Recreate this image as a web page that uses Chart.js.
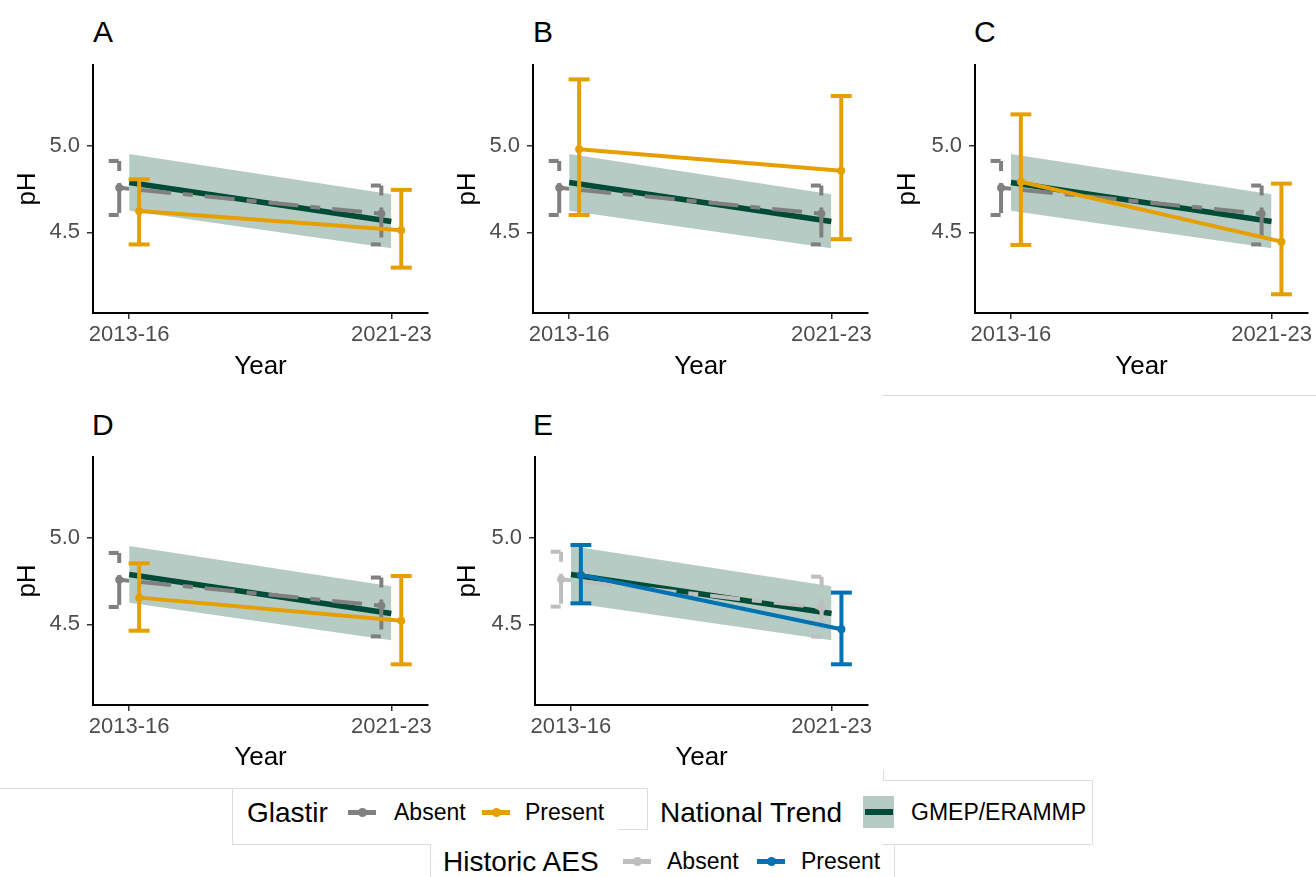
<!DOCTYPE html>
<html>
<head>
<meta charset="utf-8">
<title>Soil pH, 2013-16 to 2021-23</title>
<script src="https://cdn.jsdelivr.net/npm/chart.js@4.4.1/dist/chart.umd.min.js"></script>
<style>
  html, body { margin:0; padding:0; background:#fff; }
  body { width:1316px; height:877px; position:relative; overflow:hidden; font-family:'Liberation Sans', Arial, sans-serif; }
  canvas.panel { position:absolute; }
  .tag { position:absolute; font-size:30px; line-height:1; color:#000; }
  .leg-title { position:absolute; font-size:28px; line-height:1; color:#000; white-space:nowrap; }
  .leg-label { position:absolute; font-size:23px; line-height:1; color:#000; white-space:nowrap; }
  .key-line { position:absolute; height:5px; }
  .key-dot { position:absolute; width:9px; height:9px; border-radius:50%; }
  .rule { position:absolute; background:#dcdcdc; }
</style>
</head>
<body>

<!-- faint legend / panel box edges -->
<div class="rule" style="left:883px;top:395px;width:433px;height:1px"></div>
<div class="rule" style="left:0;top:788px;width:647px;height:1px"></div>
<div class="rule" style="left:232px;top:788px;width:1px;height:56px"></div>
<div class="rule" style="left:232px;top:844px;width:198px;height:1px"></div>
<div class="rule" style="left:430px;top:844px;width:1px;height:33px"></div>
<div class="rule" style="left:647px;top:788px;width:1px;height:41px"></div>
<div class="rule" style="left:619px;top:829px;width:29px;height:1px"></div>
<div class="rule" style="left:883px;top:770px;width:1px;height:10px"></div>
<div class="rule" style="left:883px;top:780px;width:209px;height:1px"></div>
<div class="rule" style="left:1092px;top:780px;width:1px;height:64px"></div>
<div class="rule" style="left:883px;top:844px;width:209px;height:1px"></div>
<div class="rule" style="left:894px;top:844px;width:1px;height:33px"></div>

<!-- legend -->
<div class="leg-title" style="left:247px;top:799px">Glastir</div>
<div class="key-line" style="left:348px;top:810px;width:28px;background:#808080"></div>
<div class="key-dot" style="left:358px;top:808px;background:#808080"></div>
<div class="leg-label" style="left:394px;top:801px">Absent</div>
<div class="key-line" style="left:482px;top:810px;width:28px;background:#E69F00"></div>
<div class="key-dot" style="left:492px;top:808px;background:#E69F00"></div>
<div class="leg-label" style="left:525px;top:801px">Present</div>

<div class="leg-title" style="left:660px;top:799px">National Trend</div>
<div style="position:absolute;left:863px;top:796px;width:31px;height:32px;background:rgba(0,75,53,0.29)"></div>
<div style="position:absolute;left:865px;top:809px;width:28px;height:6px;background:#004b35"></div>
<div class="leg-label" style="left:911px;top:801px">GMEP/ERAMMP</div>

<div class="leg-title" style="left:443px;top:848px">Historic AES</div>
<div class="key-line" style="left:623px;top:859px;width:28px;background:#BEBEBE"></div>
<div class="key-dot" style="left:633px;top:857px;background:#BEBEBE"></div>
<div class="leg-label" style="left:667px;top:850px">Absent</div>
<div class="key-line" style="left:757px;top:859px;width:28px;background:#0072B2"></div>
<div class="key-dot" style="left:767px;top:857px;background:#0072B2"></div>
<div class="leg-label" style="left:801px;top:850px">Present</div>

<script>
// survey periods on the x axis
const periods = ['2013-16', '2021-23'];
const periodX = [1, 2];
const yTicks = [4.5, 5.0];

// national trend (GMEP/ERAMMP) and its confidence band
const trendMean = [4.787, 4.562];
const trendLow = [4.625, 4.408];
const trendHigh = [4.952, 4.719];

// Glastir absent, same in panels A-D
const absentMean = [4.757, 4.607];
const absentLow = [4.600, 4.430];
const absentHigh = [4.912, 4.770];

// Glastir present, one per panel
const presentAMean = [4.623, 4.512];
const presentALow = [4.430, 4.296];
const presentAHigh = [4.806, 4.745];

const presentBMean = [4.979, 4.856];
const presentBLow = [4.600, 4.460];
const presentBHigh = [5.383, 5.287];

const presentCMean = [4.792, 4.446];
const presentCLow = [4.427, 4.142];
const presentCHigh = [5.181, 4.781];

const presentDMean = [4.654, 4.521];
const presentDLow = [4.463, 4.269];
const presentDHigh = [4.852, 4.779];

// historic agri-environment schemes (panel E)
const aesAbsentMean = [4.760, 4.595];
const aesAbsentLow = [4.602, 4.429];
const aesAbsentHigh = [4.919, 4.775];

const aesPresentMean = [4.785, 4.471];
const aesPresentLow = [4.621, 4.269];
const aesPresentHigh = [4.958, 4.683];

const FONT = "'Liberation Sans', Arial, sans-serif";
const TREND = '#004b35';
const BAND = 'rgba(0,75,53,0.29)';
const DODGE = 0.038;
const CAP = 0.04;
const DASH = [10, 12, 30, 12];

// where each panel sits on the page and where its plot area goes inside the canvas
const panels = [
  { tag: 'A', left: 0,   top: 0,   width: 440, axisW: 93, plotTop: 65, plotRight: 428, plotBottom: 313, yearPad: 8,
    absent: [absentMean, absentLow, absentHigh], present: [presentAMean, presentALow, presentAHigh], cols: ['#808080', '#E69F00'] },
  { tag: 'B', left: 440, top: 0,   width: 440, axisW: 93, plotTop: 65, plotRight: 428, plotBottom: 313, yearPad: 8,
    absent: [absentMean, absentLow, absentHigh], present: [presentBMean, presentBLow, presentBHigh], cols: ['#808080', '#E69F00'] },
  { tag: 'C', left: 880, top: 0,   width: 436, axisW: 95, plotTop: 65, plotRight: 428, plotBottom: 313, yearPad: 8,
    absent: [absentMean, absentLow, absentHigh], present: [presentCMean, presentCLow, presentCHigh], cols: ['#808080', '#E69F00'] },
  { tag: 'D', left: 0,   top: 390, width: 440, axisW: 93, plotTop: 67, plotRight: 428, plotBottom: 315, yearPad: 7,
    absent: [absentMean, absentLow, absentHigh], present: [presentDMean, presentDLow, presentDHigh], cols: ['#808080', '#E69F00'] },
  { tag: 'E', left: 440, top: 390, width: 440, axisW: 95, plotTop: 67, plotRight: 428, plotBottom: 315, yearPad: 7,
    absent: [aesAbsentMean, aesAbsentLow, aesAbsentHigh], present: [aesPresentMean, aesPresentLow, aesPresentHigh], cols: ['#BEBEBE', '#0072B2'] }
];
const tagPos = { A: [93, 17], B: [533, 17], C: [974, 17], D: [92, 410], E: [533, 410] };

// error bars: top cap, stem, bottom cap drawn as separate strokes
const errorBars = {
  id: 'errorBars',
  beforeDatasetDraw(chart, args) {
    const ds = chart.data.datasets[args.index];
    if (!ds.errLow) return;
    const xs = chart.scales.x, ys = chart.scales.y, ctx = chart.ctx;
    ctx.save();
    ctx.strokeStyle = ds.borderColor;
    ctx.lineWidth = ds.borderWidth;
    ctx.lineCap = 'butt';
    ctx.setLineDash(ds.borderDash || []);
    ds.data.forEach((p, i) => {
      const x = xs.getPixelForValue(p.x);
      const x0 = xs.getPixelForValue(p.x - CAP);
      const x1 = xs.getPixelForValue(p.x + CAP);
      const yl = ys.getPixelForValue(ds.errLow[i]);
      const yh = ys.getPixelForValue(ds.errHigh[i]);
      [[x0, yh, x1, yh], [x, yh, x, yl], [x0, yl, x1, yl]].forEach(s => {
        ctx.beginPath(); ctx.moveTo(s[0], s[1]); ctx.lineTo(s[2], s[3]); ctx.stroke();
      });
    });
    ctx.restore();
  }
};

function pts(ys, dx) { return periodX.map((x, i) => ({ x: x + dx, y: ys[i] })); }

function drawPanel(p) {
  const tag = document.createElement('div');
  tag.className = 'tag';
  tag.textContent = p.tag;
  tag.style.left = tagPos[p.tag][0] + 'px';
  tag.style.top = tagPos[p.tag][1] + 'px';
  document.body.appendChild(tag);

  const cv = document.createElement('canvas');
  cv.className = 'panel';
  cv.width = p.width; cv.height = 390;
  cv.style.left = p.left + 'px'; cv.style.top = p.top + 'px';
  document.body.appendChild(cv);

  const series = (vals, col, dx, dash, order) => ({
    data: pts(vals[0], dx), errLow: vals[1], errHigh: vals[2],
    borderColor: col, backgroundColor: col, borderWidth: 4, borderDash: dash,
    pointRadius: 4, pointBorderWidth: 0, pointBackgroundColor: col, fill: false, order
  });

  new Chart(cv, {
    type: 'line',
    data: {
      datasets: [
        { data: pts(trendHigh, 0), borderColor: 'rgba(0,0,0,0)', borderWidth: 1, pointRadius: 0, fill: '+1', backgroundColor: BAND, order: 6 },
        { data: pts(trendLow, 0), borderColor: 'rgba(0,0,0,0)', borderWidth: 1, pointRadius: 0, fill: false, order: 6 },
        { data: pts(trendMean, 0), borderColor: TREND, borderWidth: 5.5, pointRadius: 0, fill: false, order: 4 },
        series(p.absent, p.cols[0], -DODGE, DASH, 3),
        series(p.present, p.cols[1], DODGE, [], 1)
      ]
    },
    options: {
      responsive: false,
      animation: false,
      events: [],
      devicePixelRatio: 1,
      layout: { padding: { top: p.plotTop, right: p.width - p.plotRight, left: 0, bottom: 0 } },
      plugins: { legend: { display: false }, tooltip: { enabled: false } },
      scales: {
        x: {
          type: 'linear', min: 0.862, max: 2.14,
          afterBuildTicks: s => { s.ticks = periodX.map(v => ({ value: v })); },
          afterFit: s => { s.height = 390 - p.plotBottom; s.paddingLeft = 0; s.paddingRight = 0; },
          ticks: { autoSkip: false, maxRotation: 0, padding: 3, color: '#4d4d4d', font: { family: FONT, size: 22 },
                   callback: v => periods[periodX.indexOf(v)] },
          grid: { drawOnChartArea: false, drawTicks: true, tickLength: 6, color: '#333', lineWidth: 1.5 },
          border: { display: true, color: '#000', width: 2 },
          title: { display: true, text: 'Year', color: '#000', font: { family: FONT, size: 26 }, padding: { top: 0, bottom: p.yearPad } }
        },
        y: {
          type: 'linear', min: 4.034, max: 5.466,
          afterBuildTicks: s => { s.ticks = yTicks.map(v => ({ value: v })); },
          afterFit: s => { s.width = p.axisW; },
          ticks: { padding: 7, color: '#4d4d4d', font: { family: FONT, size: 22 }, callback: v => v.toFixed(1) },
          grid: { drawOnChartArea: false, drawTicks: true, tickLength: 6, color: '#333', lineWidth: 1.5 },
          border: { display: true, color: '#000', width: 2 },
          title: { display: true, text: 'pH', color: '#000', font: { family: FONT, size: 26 }, padding: { top: 12, bottom: 0 } }
        }
      }
    },
    plugins: [errorBars]
  });
}

panels.forEach(drawPanel);
</script>
</body>
</html>
